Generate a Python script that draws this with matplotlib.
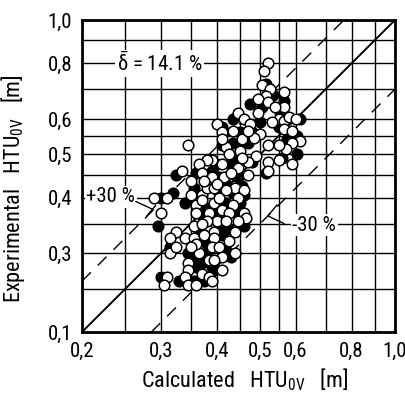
import matplotlib
matplotlib.use('Agg')
import matplotlib.pyplot as plt
from matplotlib import font_manager

# narrow font if one is installed, else DejaVu Sans
names = {f.name for f in font_manager.fontManager.ttflist}
family = 'DejaVu Sans'
for cand in ['Liberation Sans Narrow', 'Roboto Condensed', 'DejaVu Sans Condensed']:
    if cand in names:
        family = cand
        break
plt.rcParams['font.family'] = [family, 'DejaVu Sans']
plt.rcParams['font.stretch'] = 'condensed'
plt.rcParams['mathtext.default'] = 'regular'
fs = 15 if family != 'DejaVu Sans' else 12

grid_vals = [0.2, 0.25, 0.3, 0.35, 0.4, 0.45, 0.5, 0.55, 0.6, 0.7, 0.8, 0.9, 1.0]
x_ticks = [0.2, 0.3, 0.4, 0.5, 0.6, 0.8, 1.0]
x_labels = ['0,2', '0,3', '0,4', '0,5', '0,6', '0,8', '1,0']
y_ticks = [0.2, 0.3, 0.4, 0.5, 0.6, 0.8, 1.0]
y_labels = ['0,1', '0,3', '0,4', '0,5', '0,6', '0,8', '1,0']

# open circles
open_pts = [
    (0.52, 0.80), (0.51, 0.77), (0.505, 0.715), (0.525, 0.70), (0.565, 0.69),
    (0.515, 0.675), (0.495, 0.665), (0.52, 0.655), (0.565, 0.64), (0.495, 0.62),
    (0.445, 0.62), (0.46, 0.60), (0.475, 0.585), (0.40, 0.585), (0.41, 0.56),
    (0.435, 0.565), (0.55, 0.60), (0.565, 0.595), (0.58, 0.605), (0.60, 0.60),
    (0.565, 0.57), (0.59, 0.565), (0.615, 0.535), (0.59, 0.53), (0.57, 0.515),
    (0.50, 0.555), (0.52, 0.525), (0.55, 0.525), (0.59, 0.475), (0.55, 0.485),
    (0.52, 0.48), (0.52, 0.46), (0.49, 0.495), (0.47, 0.48), (0.47, 0.45),
    (0.455, 0.54), (0.42, 0.52), (0.41, 0.54), (0.425, 0.50), (0.45, 0.51),
    (0.39, 0.485), (0.38, 0.485), (0.41, 0.475), (0.445, 0.465), (0.365, 0.475),
    (0.37, 0.455), (0.39, 0.445), (0.415, 0.445), (0.44, 0.42), (0.46, 0.415),
    (0.345, 0.525), (0.335, 0.46), (0.35, 0.435), (0.35, 0.405), (0.37, 0.405),
    (0.38, 0.42), (0.395, 0.42), (0.42, 0.415), (0.445, 0.40), (0.36, 0.385),
    (0.37, 0.395), (0.395, 0.39), (0.435, 0.385), (0.46, 0.37), (0.29, 0.40),
    (0.31, 0.40), (0.30, 0.37), (0.36, 0.37), (0.385, 0.37), (0.41, 0.375),
    (0.425, 0.37), (0.465, 0.36), (0.445, 0.355), (0.40, 0.355), (0.355, 0.345),
    (0.38, 0.34), (0.395, 0.335), (0.44, 0.335), (0.325, 0.335), (0.315, 0.325),
    (0.34, 0.325), (0.315, 0.30), (0.325, 0.31), (0.355, 0.325), (0.375, 0.33),
    (0.395, 0.325), (0.425, 0.32), (0.44, 0.30), (0.41, 0.295), (0.365, 0.30),
    (0.39, 0.31), (0.385, 0.29), (0.395, 0.29), (0.345, 0.285), (0.345, 0.275),
    (0.37, 0.27), (0.385, 0.265), (0.41, 0.275), (0.31, 0.265), (0.305, 0.255),
    (0.34, 0.265), (0.345, 0.255), (0.36, 0.255), (0.39, 0.26),
    (0.43, 0.455), (0.40, 0.43), (0.375, 0.435), (0.455, 0.49), (0.485, 0.545),
    (0.53, 0.59), (0.54, 0.64), (0.47, 0.565), (0.405, 0.40), (0.38, 0.355),
    (0.42, 0.355), (0.36, 0.315), (0.405, 0.31), (0.35, 0.31), (0.37, 0.35),
]

# filled circles
filled_pts = [
    (0.515, 0.72), (0.535, 0.68), (0.565, 0.66), (0.555, 0.62), (0.475, 0.65),
    (0.435, 0.60), (0.50, 0.59), (0.41, 0.575), (0.45, 0.56), (0.55, 0.575),
    (0.615, 0.60), (0.605, 0.55), (0.575, 0.54), (0.565, 0.525), (0.605, 0.50),
    (0.56, 0.49), (0.515, 0.455), (0.48, 0.48), (0.47, 0.53), (0.45, 0.53),
    (0.435, 0.53), (0.41, 0.525), (0.435, 0.49), (0.40, 0.475), (0.43, 0.475),
    (0.445, 0.445), (0.36, 0.455), (0.405, 0.445), (0.455, 0.425), (0.325, 0.45),
    (0.355, 0.42), (0.355, 0.40), (0.405, 0.41), (0.435, 0.41), (0.46, 0.405),
    (0.34, 0.39), (0.38, 0.38), (0.42, 0.39), (0.45, 0.39), (0.445, 0.37),
    (0.30, 0.40), (0.32, 0.41), (0.295, 0.345), (0.37, 0.365), (0.395, 0.375),
    (0.46, 0.345), (0.41, 0.35), (0.365, 0.34), (0.425, 0.34), (0.315, 0.31),
    (0.365, 0.32), (0.41, 0.33), (0.43, 0.295), (0.355, 0.295), (0.38, 0.30),
    (0.37, 0.285), (0.39, 0.28), (0.36, 0.28), (0.37, 0.265), (0.395, 0.275),
    (0.30, 0.265), (0.33, 0.26), (0.355, 0.26), (0.375, 0.26),
    (0.44, 0.45), (0.39, 0.46), (0.42, 0.43), (0.48, 0.56), (0.505, 0.64),
    (0.36, 0.395), (0.40, 0.365), (0.345, 0.30), (0.42, 0.305), (0.38, 0.315),
]

deviation = 0.30

fig = plt.figure(figsize=(4.05, 4.01), dpi=100)
ax = fig.add_axes([82/405, 69/401, 313/405, 312/401])
ax.set_xscale('log')
ax.set_yscale('log')
ax.set_xlim(0.2, 1.0)
ax.set_ylim(0.2, 1.0)

ax.set_xticks(grid_vals, minor=True)
ax.set_yticks(grid_vals, minor=True)
ax.set_xticks(x_ticks)
ax.set_yticks(y_ticks)
ax.set_xticklabels(x_labels)
ax.set_yticklabels(y_labels)
ax.xaxis.set_minor_formatter(plt.NullFormatter())
ax.yaxis.set_minor_formatter(plt.NullFormatter())
ax.tick_params(which='both', length=0, labelsize=fs, pad=7)
ax.grid(which='both', color='black', lw=1.0)
ax.set_axisbelow(True)
for s in ax.spines.values():
    s.set_linewidth(2)

# parity line and +-30% lines
ax.plot([0.2, 1.0], [0.2, 1.0], color='black', lw=1.4, zorder=2)
ax.plot([0.2, 1.0/(1+deviation)], [0.2*(1+deviation), 1.0], color='black', lw=1.0,
        dashes=(9, 7), zorder=2)
ax.plot([0.2/(1-deviation), 1.0], [0.2, 1.0-deviation], color='black', lw=1.0,
        dashes=(9, 7), zorder=2)

fx, fy = zip(*filled_pts)
ox, oy = zip(*open_pts)
ax.scatter(fx, fy, s=58, facecolor='black', edgecolor='black', lw=1.1, zorder=3)
ax.scatter(ox, oy, s=58, facecolor='white', edgecolor='black', lw=1.1, zorder=4)

box = dict(facecolor='white', edgecolor='none', pad=1)
ax.text(0.298, 0.8, r'$\bar{\delta}$ = 14.1 %', fontsize=fs, ha='center', va='center',
        bbox=box, zorder=5)
ax.text(0.232, 0.402, '+30 %', fontsize=fs, ha='center', va='center', bbox=box, zorder=5)
ax.text(0.66, 0.347, '-30 %', fontsize=fs, ha='center', va='center', bbox=box, zorder=5)

# leaders
ax.plot([0.264, 0.287], [0.392, 0.377], color='black', lw=1.0, zorder=5)
ax.plot([0.279, 0.292], [0.364, 0.384], color='black', lw=1.0, zorder=5)
ax.plot([0.565, 0.52, 0.545], [0.35, 0.364, 0.385], color='black', lw=1.0, zorder=5)

ax.set_xlabel(r'Calculated   HTU$_{0V}$   [m]', fontsize=16)
ax.set_ylabel(r'Experimental   HTU$_{0V}$   [m]', fontsize=16)
ax.xaxis.set_label_coords(0.52, -0.11)
ax.yaxis.set_label_coords(-0.175, 0.46)

fig.savefig('out.png', dpi=100)
